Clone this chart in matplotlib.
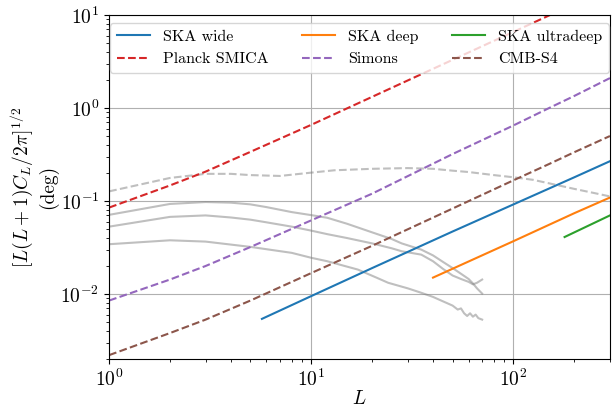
""" lensing noise curves vs reconstruction """
import numpy as np
import matplotlib.pyplot as plt

plt.rcParams['font.family'] = 'serif'
plt.rcParams['font.serif'] = ['cmr10', 'DejaVu Serif']
plt.rcParams['mathtext.fontset'] = 'cm'
plt.rcParams['axes.formatter.use_mathtext'] = True

# SKA surveys (solid)
ska_wide_L = [5.7, 10, 20, 50, 100, 200, 300]
ska_wide = [0.0054, 0.0095, 0.019, 0.047, 0.092, 0.18, 0.268]
ska_deep_L = [40, 100, 200, 300]
ska_deep = [0.015, 0.037, 0.074, 0.109]
ska_ultra_L = [179, 300]
ska_ultra = [0.041, 0.070]

# CMB experiments (dashed)
cmb_L = [1, 2, 3, 5, 10, 20, 50, 100, 150, 200, 300]
planck = [0.085, 0.147, 0.207, 0.338, 0.66, 1.32, 3.3, 6.6, 9.9, 13.2, 19.8]
simons = [0.0085, 0.0143, 0.020, 0.032, 0.062, 0.12, 0.32, 0.65, 1.0, 1.35, 2.1]
cmbs4 = [0.0022, 0.0038, 0.0053, 0.0085, 0.0168, 0.033, 0.083, 0.167, 0.25, 0.335, 0.50]

# signal curves (grey)
sig_L = [1, 2, 3, 4, 5, 7, 10, 13, 20, 30, 40, 50, 60, 80, 100, 125, 150, 200, 250, 300]
sig_dash = [0.127, 0.177, 0.196, 0.196, 0.19, 0.186, 0.202, 0.214, 0.222, 0.226, 0.222,
            0.212, 0.205, 0.19, 0.18, 0.169, 0.155, 0.135, 0.122, 0.112]

g_L = [1, 2, 3, 4, 5, 6, 8, 10, 12, 15, 20, 25, 28, 35, 40, 45, 50, 55, 60, 63, 66, 70]
g_top = [0.071, 0.093, 0.0975, 0.096, 0.092, 0.086, 0.076, 0.0705, 0.066, 0.057, 0.046,
         0.039, 0.035, 0.030, 0.026, 0.022, 0.019, 0.0165, 0.0145, 0.013, 0.0115, 0.0101]
g_mid = [0.053, 0.0675, 0.070, 0.0665, 0.063, 0.059, 0.053, 0.048, 0.044, 0.040, 0.035,
         0.031, 0.0288, 0.0265, 0.0225, 0.0185, 0.0158, 0.0145, 0.0135, 0.0127, 0.0132, 0.0143]
g_bot_L = [1, 2, 3, 5, 8, 10, 12, 17, 21, 24, 30, 35, 40, 45, 50, 53, 55, 57, 59, 61, 63, 65, 67, 70]
g_bot = [0.0343, 0.0378, 0.0366, 0.0321, 0.0277, 0.0245, 0.0225, 0.0183, 0.015, 0.0132,
         0.0115, 0.0103, 0.0093, 0.0083, 0.0075, 0.0068, 0.0070, 0.0062, 0.0058, 0.0062,
         0.0057, 0.0060, 0.0055, 0.0053]

fig = plt.figure(figsize=(6.13, 4.07), dpi=100)
ax = fig.add_axes([0.178, 0.118, 0.817, 0.845])

grey = dict(color='0.5', alpha=0.5, lw=1.5)
ax.plot(sig_L, sig_dash, ls='--', **grey)
ax.plot(g_L, g_top, **grey)
ax.plot(g_L, g_mid, **grey)
ax.plot(g_bot_L, g_bot, **grey)

ax.plot(ska_wide_L, ska_wide, color='C0', label='SKA wide')
ax.plot(cmb_L, planck, '--', color='C3', label='Planck SMICA')
ax.plot(ska_deep_L, ska_deep, color='C1', label='SKA deep')
ax.plot(cmb_L, simons, '--', color='C4', label='Simons')
ax.plot(ska_ultra_L, ska_ultra, color='C2', label='SKA ultradeep')
ax.plot(cmb_L, cmbs4, '--', color='C5', label='CMB-S4')

ax.set_xscale('log')
ax.set_yscale('log')
ax.set_xlim(1, 300)
ax.set_ylim(2e-3, 10)
ax.grid(True, which='major', color='#b0b0b0', lw=0.8)
ax.tick_params(labelsize=14)

ax.set_xlabel(r'$L$', fontsize=14, labelpad=0)
ax.set_ylabel('$[L(L+1)C_L/2\\pi]^{1/2}$\n(deg)', fontsize=14, labelpad=2)
ax.legend(ncol=3, fontsize=11.5, loc='upper center', handlelength=2.07,
          handletextpad=0.83, columnspacing=2.09, borderaxespad=0.52)

plt.savefig('out.png', dpi=100)
